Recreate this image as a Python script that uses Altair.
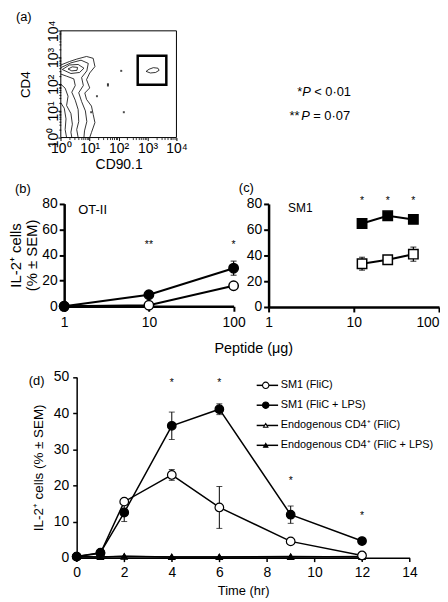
import math
import altair as alt
import pandas as pd

FONT = "Liberation Sans"
K = "black"

# ================= DATA =================
# (a) flow-cytometry contour lines, in log10 decades (x = CD90.1, y = CD4)
contour_1 = [(0.00, 2.72), (0.30, 2.85), (0.55, 2.94), (0.89, 3.04), (1.12, 2.97),
             (1.18, 2.66), (1.00, 2.42), (0.89, 2.17), (1.00, 1.86), (0.83, 1.67),
             (0.89, 1.43), (1.06, 1.18), (1.12, 0.87), (1.18, 0.56), (1.06, 0.19), (1.00, 0.00)]
contour_2 = [(0.00, 2.62), (0.35, 2.80), (0.70, 2.90), (0.95, 2.78), (0.90, 2.50),
             (0.72, 2.25), (0.78, 1.95), (0.62, 1.68), (0.72, 1.35), (0.85, 1.00),
             (0.90, 0.60), (0.82, 0.25), (0.80, 0.00)]
contour_3 = [(0.00, 2.38), (0.20, 2.30), (0.45, 2.20), (0.50, 1.95), (0.38, 1.70),
             (0.50, 1.40), (0.60, 1.05), (0.62, 0.60), (0.55, 0.30), (0.60, 0.00)]
contour_4 = [(0.00, 2.00), (0.15, 1.85), (0.25, 1.55), (0.20, 1.20), (0.35, 0.90),
             (0.40, 0.50), (0.35, 0.20), (0.38, 0.00)]
contour_5 = [(0.00, 1.30), (0.12, 1.10), (0.18, 0.70), (0.15, 0.30), (0.20, 0.00)]
peak_ring_1 = [(0.05, 2.55), (0.30, 2.72), (0.60, 2.74), (0.80, 2.60), (0.65, 2.44),
               (0.35, 2.40), (0.05, 2.55)]
peak_ring_2 = [(0.25, 2.57), (0.40, 2.65), (0.58, 2.63), (0.56, 2.52), (0.38, 2.50), (0.25, 2.57)]
gate_blob = [(2.95, 2.48), (3.05, 2.56), (3.20, 2.62), (3.36, 2.60), (3.40, 2.52),
             (3.28, 2.44), (3.10, 2.42), (2.95, 2.48)]
speck_x = [2.09, 1.63, 1.63, 2.18, 1.25, 1.05]
speck_y = [2.50, 2.00, 1.95, 0.95, 1.55, 0.95]
gate_x = [2.66, 3.65]
gate_y = [1.98, 3.07]

# (b) OT-II
b_dose = [1, 10, 100]
b_filled = [0.0, 9.0, 29.7]
b_filled_err = [0.0, 0.0, 5.5]
b_open = [0.0, 0.8, 16.0]
b_open_err = [0.0, 0.0, 0.0]
b_star_dose = [10, 100]
b_star_text = ["**", "*"]
b_star_y = [49, 49]

# (c) SM1
c_dose = [12.5, 25, 50]
c_filled = [64.8, 70.8, 68.0]
c_filled_err = [0.0, 0.0, 0.0]
c_open = [33.6, 36.7, 41.0]
c_open_err = [5.0, 1.5, 5.5]
c_star_y = [84, 84, 84]

# (d) time course
d_time = [0, 1, 2, 4, 6, 9, 12]
d_sm1_flic = [0.3, 1.2, 15.5, 22.9, 13.9, 4.5, 0.6]
d_sm1_flic_err = [0, 0, 0, 1.5, 5.8, 0, 0]
d_sm1_lps = [0.3, 1.4, 12.5, 36.5, 41.1, 11.9, 4.6]
d_sm1_lps_err = [0, 0, 2.5, 3.8, 1.5, 2.4, 0]
d_endo_flic = [0.3, 0.2, 0.3, 0.2, 0.2, 0.2, 0.3]
d_endo_lps = [0.2, 0.2, 0.4, 0.2, 0.2, 0.3, 0.2]
d_star_time = [4, 6, 9, 12]
d_star_y = [48.9, 48.9, 21.7, 12.2]
d_legend = ["SM1 (FliC)", "SM1 (FliC + LPS)",
            "Endogenous CD4\u207a (FliC)", "Endogenous CD4\u207a (FliC + LPS)"]

# ================= canvas / panel placement (pixels inside one view) =================
W, H = 424, 594
A_X, A_Y = [49.3, 166.0], [127.0, 19.3]
B_X, B_Y = [52.7, 223.7], [297.3, 193.7]
C_X, C_Y = [259.0, 431.0], [298.0, 194.0]
D_X, D_Y = [65.3, 401.3], [551.0, 368.7]

ONE = alt.Data(values=[{}])
layers = []


def label(text, px, py, size=12.5, style="normal", align="left"):
    return alt.Chart(ONE).mark_text(text=text, font=FONT, fontSize=size, fontStyle=style,
                                    align=align, baseline="alphabetic", color=K).encode(
        x=alt.value(px), y=alt.value(py))


def left_axis(rng_x, **kw):
    return alt.Axis(orient="left", offset=-rng_x[0], grid=False, **kw)


def bottom_axis(rng_y, **kw):
    return alt.Axis(orient="bottom", offset=-(H - rng_y[0]), grid=False, **kw)


# ================= (a) =================
rows = []
for cid, pts in enumerate([contour_1, contour_2, contour_3, contour_4, contour_5,
                           peak_ring_1, peak_ring_2, gate_blob]):
    for i, (x, y) in enumerate(pts):
        rows.append({"cid": cid, "i": i, "x": x, "y": y})
df_cont = pd.DataFrame(rows)
df_speck = pd.DataFrame({"x": speck_x, "y": speck_y})
df_gate = pd.DataFrame({"x": [gate_x[0]], "x2": [gate_x[1]], "y": [gate_y[0]], "y2": [gate_y[1]]})
df_frame = pd.DataFrame({"x": [0], "x2": [4], "y": [0], "y2": [4]})

POW = ("datum.value == 0 ? '10\u2070' : datum.value == 1 ? '10\u00b9' : "
       "datum.value == 2 ? '10\u00b2' : datum.value == 3 ? '10\u00b3' : '10\u2074'")
MINOR = [round(k + math.log10(m), 4) for k in range(4) for m in range(2, 10)]
sa_x = alt.Scale(domain=[0, 4], range=A_X, nice=False, zero=False)
sa_y = alt.Scale(domain=[0, 4], range=A_Y, nice=False, zero=False)
ax_ax = bottom_axis(A_Y, values=[0, 1, 2, 3, 4], labelExpr=POW, title="CD90.1", tickSize=3,
                    labelPadding=1, titlePadding=2, labelFontSize=14, titleFontSize=14, domain=False)
ax_ay = left_axis(A_X, values=[0, 1, 2, 3, 4], labelExpr=POW, title="CD4", tickSize=3,
                  labelPadding=0, labelAngle=270, labelAlign="center", labelBaseline="alphabetic",
                  titlePadding=15, labelFontSize=14, titleFontSize=13.5, domain=False)
ax_ax_minor = bottom_axis(A_Y, values=MINOR, labels=False, domain=False, tickSize=2,
                          tickWidth=0.8, title=None)
ax_ay_minor = left_axis(A_X, values=MINOR, labels=False, domain=False, tickSize=2,
                        tickWidth=0.8, title=None)


def ax_enc(f, sc, ax=None, ch="x"):
    if ch == "x":
        return alt.X(f, scale=sc, axis=ax)
    return alt.Y(f, scale=sc, axis=ax)


layers.append(alt.Chart(df_cont).mark_line(color=K, strokeWidth=0.8).encode(
    x=ax_enc("x:Q", sa_x, ax_ax), y=ax_enc("y:Q", sa_y, ax_ay, "y"), detail="cid:N", order="i:Q"))
layers.append(alt.Chart(df_frame).mark_rect(fillOpacity=0, stroke=K, strokeWidth=1).encode(
    x=ax_enc("x:Q", sa_x, ax_ax_minor), x2="x2:Q", y=ax_enc("y:Q", sa_y, ax_ay_minor, "y"),
    y2="y2:Q"))
layers.append(alt.Chart(df_speck).mark_point(shape="square", size=4, filled=True, color=K).encode(
    x=ax_enc("x:Q", sa_x), y=ax_enc("y:Q", sa_y, None, "y")))
layers.append(alt.Chart(df_gate).mark_rect(fillOpacity=0, stroke=K, strokeWidth=2.5).encode(
    x=ax_enc("x:Q", sa_x), x2="x2:Q", y=ax_enc("y:Q", sa_y, None, "y"), y2="y2:Q"))
layers += [
    label("(a)", 4, 9.5, 13),
    label("*", 288, 85, 13), label("P", 293, 85, 13, "italic"), label("< 0\u00b701", 305, 85, 13),
    label("**", 280, 109, 13), label("P", 292, 109, 13, "italic"), label("= 0\u00b707", 304, 109, 13),
]


# ================= (b) and (c) =================
LAST_RIGHT = {"condition": {"test": "datum.value == 100", "value": "right"}, "value": "center"}


def pep_panel(dose, filled, filled_err, open_, open_err, shape, ytitle, stars, rx, ry, flush_last):
    n = len(dose)
    df = pd.DataFrame({"dose": list(dose) * 2, "value": list(filled) + list(open_),
                       "err": list(filled_err) + list(open_err),
                       "series": ["filled"] * n + ["open"] * n})
    df["lo"] = df["value"] - df["err"]
    df["hi"] = df["value"] + df["err"]
    dfe = df[df["err"] > 0]
    sx = alt.Scale(type="log", domain=[1, 100], range=rx)
    sy = alt.Scale(domain=[0, 80], range=ry, nice=False, zero=True)
    extra = {"labelAlign": LAST_RIGHT} if flush_last else {}
    axx = bottom_axis(ry, values=[1, 10, 100], format="d", title=None, domainWidth=2.5,
                      tickWidth=2, tickSize=5, labelPadding=4, labelFontSize=14, **extra)
    axy = left_axis(rx, values=[0, 20, 40, 60, 80], title=ytitle, domainWidth=2.5, tickWidth=2,
                    tickSize=5, labelPadding=2, labelFontSize=14, titleFontSize=15,
                    titleLineHeight=16.5, titlePadding=2)
    X = alt.X("dose:Q", scale=sx, axis=None)

    def Y(f):
        return alt.Y(f, scale=sy, axis=None)

    out = [alt.Chart(df).mark_line(color=K, strokeWidth=2).encode(
        x=alt.X("dose:Q", scale=sx, axis=axx), y=alt.Y("value:Q", scale=sy, axis=axy),
        detail="series:N")]
    if len(dfe):
        out.append(alt.Chart(dfe).mark_rule(color=K, strokeWidth=1.2).encode(
            x=X, y=Y("lo:Q"), y2="hi:Q"))
        out.append(alt.Chart(dfe).mark_tick(orient="horizontal", size=6, thickness=1.2, color=K).encode(
            x=X, y=Y("hi:Q")))
        out.append(alt.Chart(dfe).mark_tick(orient="horizontal", size=6, thickness=1.2, color=K).encode(
            x=X, y=Y("lo:Q")))
    out.append(alt.Chart(df[df.series == "open"]).mark_point(
        shape=shape, size=90, filled=True, fill="white", stroke=K, strokeWidth=1.5, opacity=1).encode(
        x=X, y=Y("value:Q")))
    out.append(alt.Chart(df[df.series == "filled"]).mark_point(
        shape=shape, size=90, filled=True, fill=K, stroke=K, strokeWidth=1.5, opacity=1).encode(
        x=X, y=Y("value:Q")))
    out.append(alt.Chart(stars).mark_text(font=FONT, fontSize=10.5, baseline="middle", dy=2,
                                          color=K).encode(x=X, y=Y("y:Q"), text="t:N"))
    return out


stars_b = pd.DataFrame({"dose": b_star_dose, "y": b_star_y, "t": b_star_text})
stars_c = pd.DataFrame({"dose": c_dose, "y": c_star_y, "t": ["*"] * len(c_dose)})

layers += pep_panel(b_dose, b_filled, b_filled_err, b_open, b_open_err, "circle",
                    ["IL-2\u207a cells", "(% \u00b1 SEM)"], stars_b, B_X, B_Y, False)
layers += pep_panel(c_dose, c_filled, c_filled_err, c_open, c_open_err, "square",
                    None, stars_c, C_X, C_Y, True)
layers += [
    label("(b)", 3, 183, 13), label("(c)", 229, 182, 13),
    label("OT-II", 67, 203.7, 13), label("SM1", 278.7, 202, 12),
    label("Peptide (\u03bcg)", 244, 344, 14.5, align="center"),
]

# ================= (d) =================
series_names = ["sm1_flic", "sm1_lps", "endo_flic", "endo_lps"]
vals = [d_sm1_flic, d_sm1_lps, d_endo_flic, d_endo_lps]
errs = [d_sm1_flic_err, d_sm1_lps_err, [0] * 7, [0] * 7]
recs = []
for s, v, e in zip(series_names, vals, errs):
    for t, vv, ee in zip(d_time, v, e):
        recs.append({"series": s, "time": t, "value": vv, "err": ee})
df_d = pd.DataFrame(recs)
df_d["lo"] = df_d["value"] - df_d["err"]
df_d["hi"] = df_d["value"] + df_d["err"]
df_de = df_d[df_d["err"] > 0]

sdx = alt.Scale(domain=[0, 14], range=D_X, nice=False, zero=True)
sdy = alt.Scale(domain=[0, 50], range=D_Y, nice=False, zero=True)
ax_dx = bottom_axis(D_Y, values=list(range(0, 15, 2)), title="Time (hr)", domainWidth=1.5,
                    tickWidth=1.5, tickSize=4, labelPadding=4, labelFontSize=14,
                    titleFontSize=13, titlePadding=5)
ax_dy = left_axis(D_X, values=[0, 10, 20, 30, 40, 50], title="IL-2\u207a cells (% \u00b1 SEM)",
                  domainWidth=1.5, tickWidth=1.5, tickSize=4, labelPadding=4, labelFontSize=14,
                  titleFontSize=13.5, titlePadding=8)


def DX(f):
    return alt.X(f, scale=sdx, axis=None)


def DY(f):
    return alt.Y(f, scale=sdy, axis=None)


layers.append(alt.Chart(df_d).mark_line(color=K, strokeWidth=1.5).encode(
    x=alt.X("time:Q", scale=sdx, axis=ax_dx), y=alt.Y("value:Q", scale=sdy, axis=ax_dy),
    detail="series:N"))
layers.append(alt.Chart(df_de).mark_rule(color=K, strokeWidth=1).encode(
    x=DX("time:Q"), y=DY("lo:Q"), y2="hi:Q"))
layers.append(alt.Chart(df_de).mark_tick(orient="horizontal", size=6, thickness=1, color=K).encode(
    x=DX("time:Q"), y=DY("hi:Q")))
layers.append(alt.Chart(df_de).mark_tick(orient="horizontal", size=6, thickness=1, color=K).encode(
    x=DX("time:Q"), y=DY("lo:Q")))

style = {"sm1_flic": ("circle", "white", 75), "sm1_lps": ("circle", K, 75),
         "endo_flic": ("triangle-up", "white", 35), "endo_lps": ("triangle-up", K, 35)}
for s in ["endo_flic", "endo_lps", "sm1_flic", "sm1_lps"]:
    shp, fil, sz = style[s]
    layers.append(alt.Chart(df_d[df_d.series == s]).mark_point(
        shape=shp, size=sz, filled=True, fill=fil, stroke=K, strokeWidth=1.2, opacity=1).encode(
        x=DX("time:Q"), y=DY("value:Q")))

df_dstar = pd.DataFrame({"time": d_star_time, "y": d_star_y})
layers.append(alt.Chart(df_dstar).mark_text(text="*", font=FONT, fontSize=10.5, baseline="middle",
                                            dy=2, color=K).encode(x=DX("time:Q"), y=DY("y:Q")))

# custom legend, placed in the panel's own data coordinates
leg_y = [47.7, 42.2, 36.6, 31.1]
df_leg = pd.DataFrame({"label": d_legend, "series": series_names, "y": leg_y,
                       "x0": [7.57] * 4, "x1": [8.47] * 4, "xm": [7.95] * 4, "xt": [8.58] * 4})
layers.append(alt.Chart(df_leg).mark_rule(color=K, strokeWidth=1.5).encode(
    x=DX("x0:Q"), x2="x1:Q", y=DY("y:Q")))
for s in series_names:
    shp, fil, sz = style[s]
    layers.append(alt.Chart(df_leg[df_leg.series == s]).mark_point(
        shape=shp, size=sz * 0.55, filled=True, fill=fil, stroke=K, strokeWidth=1.1, opacity=1).encode(
        x=DX("xm:Q"), y=DY("y:Q")))
layers.append(alt.Chart(df_leg).mark_text(font=FONT, fontSize=11, align="left", baseline="middle",
                                          color=K).encode(x=DX("xt:Q"), y=DY("y:Q"), text="label:N"))
layers.append(label("(d)", 17, 377, 13))

# ================= assemble =================
chart = alt.layer(*layers).resolve_scale(x="independent", y="independent").properties(
    width=W, height=H, padding=0
).configure_view(stroke=None).configure_axis(
    labelFont=FONT, titleFont=FONT, labelColor=K, titleColor=K, domainColor=K, tickColor=K,
    grid=False, labelFlush=False, labelOverlap=False, titleFontWeight="normal"
).configure_text(font=FONT)

chart.save("out.html", embed_options={"renderer": "svg", "actions": False})
